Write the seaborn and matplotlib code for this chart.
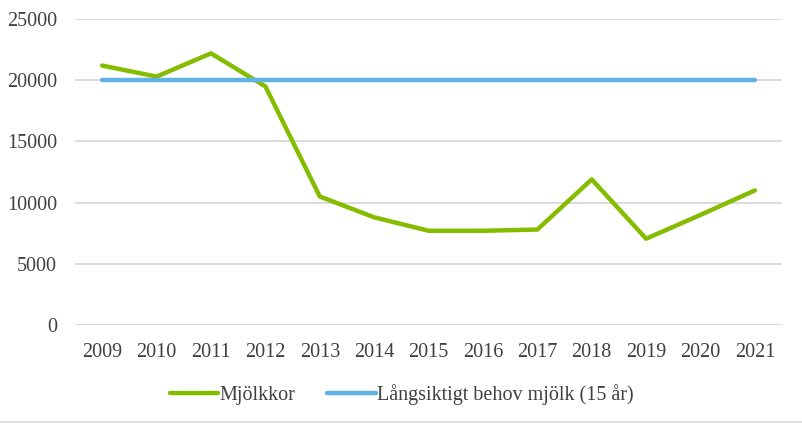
import matplotlib
matplotlib.use("Agg")
import matplotlib.pyplot as plt
from matplotlib.lines import Line2D
import seaborn as sns
import pandas as pd

years = ['2009', '2010', '2011', '2012', '2013', '2014', '2015',
         '2016', '2017', '2018', '2019', '2020', '2021']
mjolkkor = [21200, 20300, 22200, 19500, 10500, 8800, 7700,
            7700, 7800, 11900, 7050, 9000, 11000]
behov = [20000] * len(years)
series_names = ['Mjölkkor', 'Långsiktigt behov mjölk (15 år)']
mycmap = ['#84bd00', '#5fb3e4']  # green, blue

sns.set_theme(style='white')
plt.rcParams['font.family'] = ['Liberation Serif', 'DejaVu Serif']

df = pd.DataFrame({
    'year': years * 2,
    'value': mjolkkor + behov,
    'serie': [series_names[0]] * len(years) + [series_names[1]] * len(years),
})

fig = plt.figure(figsize=(8.03, 4.24), dpi=100)
ax = fig.add_axes([0.0934, 0.2335, 0.8806, 0.7215])

sns.lineplot(data=df, x='year', y='value', hue='serie', palette=mycmap,
             linewidth=3.2, ax=ax, legend=False, sort=False)
for l in ax.lines:
    l.set_solid_capstyle('round')
    l.set_solid_joinstyle('round')

ax.set_ylim(0, 25000)
ax.set_xlim(-0.5, len(years) - 0.5)
ax.set_yticks(range(0, 25001, 5000))
ax.yaxis.grid(True, color='#d9d9d9', linewidth=1.3)
ax.set_axisbelow(True)
for s in ax.spines.values():
    s.set_visible(False)
ax.axhline(0, color='#d9d9d9', linewidth=1.3, zorder=0)
ax.tick_params(axis='both', length=0, labelsize=14.5, colors='#404040')
ax.tick_params(axis='x', pad=13)
ax.tick_params(axis='y', pad=13)
ax.set_xlabel('')
ax.set_ylabel('')

handles = [Line2D([0], [0], color=c, lw=3.2, solid_capstyle='round') for c in mycmap]
fig.legend(handles, series_names, loc='center', bbox_to_anchor=(0.5, 0.07),
           ncol=2, frameon=False, fontsize=14.5, handlelength=2.4,
           handletextpad=0.05, columnspacing=1.6, labelcolor='#404040')

fig.add_artist(Line2D([0, 1], [0.004, 0.004], color='#d9d9d9', lw=1.2,
                      transform=fig.transFigure))

plt.savefig('out.png', dpi=100)
